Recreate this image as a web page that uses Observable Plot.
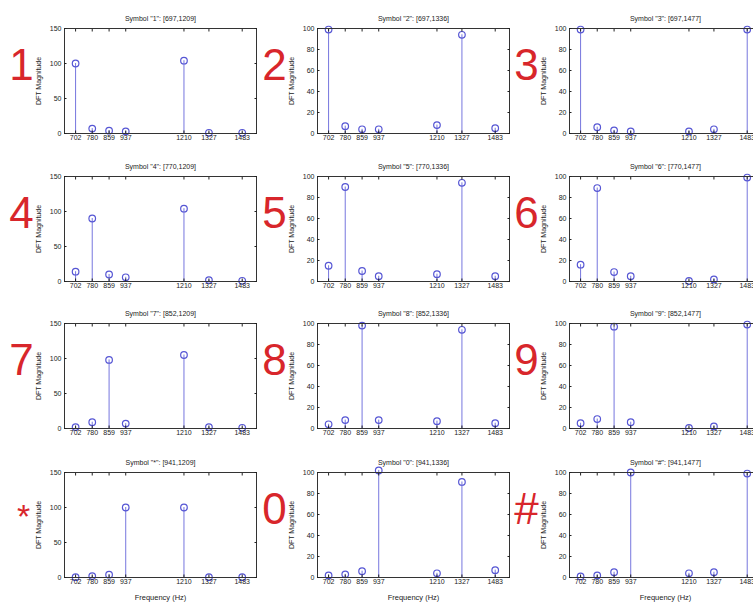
<!DOCTYPE html>
<html><head><meta charset="utf-8">
<script src="https://cdn.jsdelivr.net/npm/d3@7"></script>
<script src="https://cdn.jsdelivr.net/npm/@observablehq/plot@0.6"></script>
<style>
body{margin:0;background:#fff;}
#wrap{position:relative;width:753px;height:605px;overflow:hidden;background:#fff;font-family:"Liberation Sans",Arial,sans-serif;}
#wrap svg{position:absolute;overflow:visible;max-width:none;}
</style></head><body><div id="wrap"></div>
<script>
// Goertzel bin frequencies (tick labels and stem positions)
const bins = [702, 780, 859, 937, 1210, 1327, 1483];
const symbols = ["1", "2", "3", "4", "5", "6", "7", "8", "9", "*", "0", "#"];
const lowTones  = [697, 697, 697, 770, 770, 770, 852, 852, 852, 941, 941, 941];
const highTones = [1209, 1336, 1477, 1209, 1336, 1477, 1209, 1336, 1477, 1209, 1336, 1477];
// DFT magnitudes per symbol, one value per bin
const mag1    = [100, 7, 4, 3, 104, 1, 1];
const mag2    = [99, 7, 4, 4, 8, 94, 5];
const mag3    = [99, 6, 3, 2, 2, 4, 99];
const mag4    = [14, 90, 10, 6, 104, 2, 1];
const mag5    = [15, 90, 10, 5, 7, 94, 5];
const mag6    = [16, 89, 9, 5, 0.5, 2, 99];
const mag7    = [2, 9, 98, 7, 105, 2, 1];
const mag8    = [4, 8, 98, 8, 7, 94, 5];
const mag9    = [5, 9, 97, 6, 0.5, 2, 99];
const magStar = [0.5, 2, 4, 100, 100, 0.5, 0.5];
const mag0    = [2, 3, 6, 102, 4, 91, 7];
const magHash = [1, 2, 5, 100, 4, 5, 99];
const magnitudes = [mag1, mag2, mag3, mag4, mag5, mag6, mag7, mag8, mag9, magStar, mag0, magHash];
const yTicksWide = [0, 50, 100, 150];
const yTicksNarrow = [0, 20, 40, 60, 80, 100];

const colLeft = [64, 317, 569];
const rowTop = [28, 176, 323, 472];
const FW = 192, FH = 105;
const mL = 66, mR = 6, mT = 20, mB = 30;
const wrap = document.getElementById("wrap");
const fmt = d => String(d);

symbols.forEach((sym, i) => {
  const col = i % 3, row = Math.floor(i / 3);
  const wide = col === 0;
  const yMax = wide ? 150 : 100;
  const yTicks = wide ? yTicksWide : yTicksNarrow;
  const data = bins.map((f, j) => ({f, m: magnitudes[i][j]}));
  const title = `Symbol "${sym}": [${lowTones[i]},${highTones[i]}]`;
  const star = sym === "*";
  const marks = [
    Plot.ruleX(data, {x: "f", y1: 0, y2: "m", stroke: "#7676de", strokeWidth: 1}),
    Plot.dot(data, {x: "f", y: "m", r: 3.3, stroke: "#5656d4", fill: "none", strokeWidth: 1.2}),
    Plot.frame({stroke: "#333"}),
    Plot.axisX(bins, {anchor: "bottom", tickSize: 0, tickPadding: 2, tickFormat: fmt, label: null}),
    Plot.axisX(bins, {anchor: "bottom", tickSize: -2.5, fill: "none", label: null}),
    Plot.axisX(bins, {anchor: "top", tickSize: -2.5, fill: "none", label: null}),
    Plot.axisY(yTicks, {anchor: "left", tickSize: 0, tickPadding: 3, tickFormat: fmt, label: null}),
    Plot.axisY(yTicks, {anchor: "left", tickSize: -2.5, fill: "none", label: null}),
    Plot.axisY(yTicks, {anchor: "right", tickSize: -2.5, fill: "none", label: null}),
    Plot.text([title], {frameAnchor: "top", dy: -10, lineAnchor: "middle", textAnchor: "middle", fontSize: 7}),
    Plot.text(["DFT Magnitude"], {frameAnchor: "left", dx: -26, rotate: -90, textAnchor: "middle", lineAnchor: "middle", fontSize: 7}),
    Plot.text([sym], {frameAnchor: "left", dx: star ? -41 : -43, dy: star ? -8 : -15, textAnchor: "middle", lineAnchor: "middle", fontSize: star ? 34 : 44, fill: "#d8262b"})
  ];
  if (row === 3) marks.push(Plot.text(["Frequency (Hz)"], {frameAnchor: "bottom", dy: 20, lineAnchor: "middle", textAnchor: "middle", fontSize: 7.5}));
  const svg = Plot.plot({
    width: mL + FW + mR, height: mT + FH + mB,
    marginLeft: mL, marginRight: mR, marginTop: mT, marginBottom: mB,
    style: {background: "transparent", fontFamily: "'Liberation Sans', Arial, sans-serif", fontSize: "7px", color: "#222", overflow: "visible"},
    x: {domain: [650, 1550], label: null},
    y: {domain: [0, yMax], label: null},
    marks
  });
  svg.style.left = (colLeft[col] - mL) + "px";
  svg.style.top = (rowTop[row] - mT) + "px";
  wrap.appendChild(svg);
});
</script></body></html>
